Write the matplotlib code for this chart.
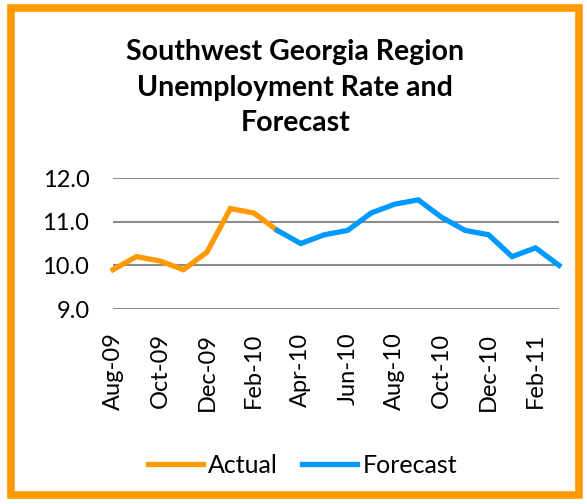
import matplotlib.pyplot as plt
from matplotlib.patches import Rectangle

plt.rcParams['font.family'] = ['Lato', 'DejaVu Sans']

months = ['Aug-09', 'Sep-09', 'Oct-09', 'Nov-09', 'Dec-09', 'Jan-10', 'Feb-10',
          'Mar-10', 'Apr-10', 'May-10', 'Jun-10', 'Jul-10', 'Aug-10', 'Sep-10',
          'Oct-10', 'Nov-10', 'Dec-10', 'Jan-11', 'Feb-11', 'Mar-11']
actual = [9.9, 10.2, 10.1, 9.9, 10.3, 11.3, 11.2, 10.8]
forecast = [10.8, 10.5, 10.7, 10.8, 11.2, 11.4, 11.5, 11.1, 10.8, 10.7,
            10.2, 10.4, 10.0]
yticks = [9.0, 10.0, 11.0, 12.0]

orange = '#FF9900'
blue = '#0099FF'

fig = plt.figure(figsize=(5.87, 5.04), dpi=100)
ax = fig.add_axes([0.1925, 0.3869, 0.7598, 0.2599])

x_act = list(range(len(actual)))
x_fc = list(range(len(actual) - 1, len(months)))
ax.plot(x_act, actual, color=orange, lw=3.8, solid_joinstyle='miter',
        clip_on=False, zorder=3, label='Actual')
ax.plot(x_fc, forecast, color=blue, lw=3.8, solid_joinstyle='miter',
        clip_on=False, zorder=3, label='Forecast')

ax.set_xlim(0, len(months) - 1)
ax.set_ylim(9, 12)
ax.set_yticks(yticks)
ax.set_yticklabels(['%.1f' % v for v in yticks])
ax.set_xticks(range(0, len(months), 2))
ax.set_xticklabels(months[::2], rotation=90)
ax.tick_params(length=0, labelsize=17, pad=17)
ax.grid(axis='y', color='#8c8c8c', lw=1.5)
ax.set_axisbelow(True)
for s in ax.spines.values():
    s.set_visible(False)

fig.text(0.503, 0.826, 'Southwest Georgia Region\nUnemployment Rate and\nForecast',
         ha='center', va='center', fontsize=20.5, fontweight='bold', linespacing=1.45)

fig.legend(loc='center', bbox_to_anchor=(0.515, 0.077), ncol=2, frameon=False,
           fontsize=18, handlelength=2.2, handletextpad=0.2, columnspacing=1.0)

fig.patches.append(Rectangle((0.0179, 0.0179), 0.9685, 0.967, transform=fig.transFigure,
                             fill=False, edgecolor=orange, lw=5.5, zorder=10))

fig.savefig('out.png', dpi=100)
